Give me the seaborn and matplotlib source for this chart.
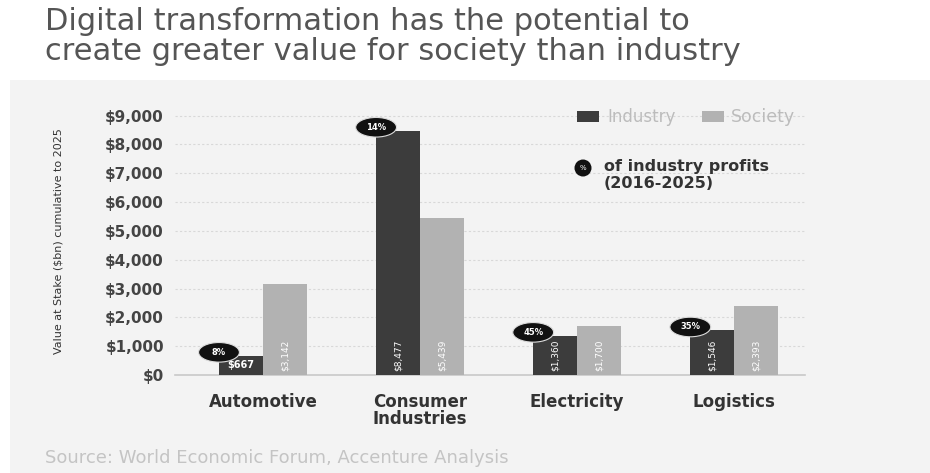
import matplotlib
matplotlib.use("Agg")
import matplotlib.pyplot as plt
from matplotlib.patches import Ellipse, Rectangle
import seaborn as sns
import pandas as pd

categories = ["Automotive", "Consumer\nIndustries", "Electricity", "Logistics"]
industry = [667, 8477, 1360, 1546]
society = [3142, 5439, 1700, 2393]
industry_labels = ["$667", "$8,477", "$1,360", "$1,546"]
society_labels = ["$3,142", "$5,439", "$1,700", "$2,393"]
profit_share = ["8%", "14%", "45%", "35%"]
yticks = [0, 1000, 2000, 3000, 4000, 5000, 6000, 7000, 8000, 9000]
ytick_labels = ["$0", "$1,000", "$2,000", "$3,000", "$4,000", "$5,000",
                "$6,000", "$7,000", "$8,000", "$9,000"]

df = pd.DataFrame({
    "Category": categories * 2,
    "Value": industry + society,
    "Series": ["Industry"] * 4 + ["Society"] * 4,
})

sns.set_theme(style="white")
plt.rcParams["font.family"] = ["DejaVu Sans"]

W, H = 930, 473
fig = plt.figure(figsize=(9.3, 4.73), dpi=100)
fig.patch.set_facecolor("white")
fig.patches.append(Rectangle((10 / W, 0), 1, (H - 80) / H, transform=fig.transFigure,
                             facecolor="#f3f3f3", edgecolor="none", zorder=-1))

ax = fig.add_axes([175 / W, (H - 375) / H, (805 - 175) / W, (375 - 107) / H])
ax.set_zorder(3)
ax.set_facecolor("none")

dark = "#3c3c3c"
light = "#b2b2b2"
sns.barplot(data=df, x="Category", y="Value", hue="Series", hue_order=["Industry", "Society"],
            palette=[dark, light], width=0.56, saturation=1, ax=ax, legend=False, zorder=3,
            linewidth=0)

ax.set_ylim(0, 9300)
ax.set_xlim(-0.56, 3.45)
ax.set_yticks(yticks)
ax.set_yticklabels(ytick_labels, fontsize=11, fontweight="bold", color="#444444")
ax.set_xticks(range(4))
ax.set_xticklabels(categories, fontsize=12, fontweight="bold", color="#333333", linespacing=0.95)
ax.tick_params(axis="both", length=0, pad=8)
ax.tick_params(axis="x", pad=13)
for y in yticks[1:]:
    ax.axhline(y, color="#d8d8d8", lw=0.8, ls=(0, (2, 2)), zorder=1)
for s in ["top", "right", "left"]:
    ax.spines[s].set_visible(False)
ax.spines["bottom"].set_color("#c8c8c8")
ax.spines["bottom"].set_linewidth(1.2)
ax.set_xlabel("")
ax.set_ylabel("Value at Stake ($bn) cumulative to 2025", fontsize=8, color="#333333", labelpad=30)

# value labels inside bars
for container, labels in zip(ax.containers, [industry_labels, society_labels]):
    for bar, lab in zip(container, labels):
        cx = bar.get_x() + bar.get_width() / 2
        if bar.get_height() < 1000:
            ax.text(cx, bar.get_height() / 2, lab, ha="center", va="center", fontsize=7,
                    color="white", fontweight="bold", zorder=5)
        else:
            ax.text(cx, 150, lab, rotation=90, ha="center", va="bottom", fontsize=6.5,
                    color="white", zorder=5)

# percent ellipses
ind_bars = ax.containers[0]
for bar, pct in zip(ind_bars, profit_share):
    ex = bar.get_x() - 0.0
    ey = bar.get_height() + 120
    e = Ellipse((ex, ey), width=0.26, height=680, facecolor="#111111",
                edgecolor="#dddddd", lw=0.8, zorder=6, clip_on=False)
    ax.add_patch(e)
    ax.text(ex, ey, pct, ha="center", va="center", fontsize=6, color="white",
            fontweight="bold", zorder=7)

# legend
def fx(px):
    return px / W

def fy(py):
    return (H - py) / H

fig.patches.append(Rectangle((fx(577), fy(122)), 22 / W, 11 / H, transform=fig.transFigure,
                             facecolor=dark, edgecolor="none", zorder=5))
fig.text(fx(607), fy(117), "Industry", fontsize=12, color="#bcbcbc", va="center")
fig.patches.append(Rectangle((fx(702), fy(122)), 22 / W, 11 / H, transform=fig.transFigure,
                             facecolor=light, edgecolor="none", zorder=5))
fig.text(fx(731), fy(117), "Society", fontsize=12.5, color="#bcbcbc", va="center")
fig.patches.append(Ellipse((fx(583), fy(168)), 17 / W, 17 / H, transform=fig.transFigure,
                           facecolor="#111111", edgecolor="none", zorder=5))
fig.text(fx(583), fy(168), "%", fontsize=5, color="white", ha="center", va="center", zorder=6)
fig.text(fx(604), fy(167), "of industry profits", fontsize=11.5, fontweight="bold",
         color="#333333", va="center")
fig.text(fx(604), fy(183), "(2016-2025)", fontsize=11.5, fontweight="bold",
         color="#333333", va="center")

# title
fig.text(fx(45), fy(22), "Digital transformation has the potential to", fontsize=22,
         color="#555555", va="center")
fig.text(fx(45), fy(51), "create greater value for society than industry", fontsize=22,
         color="#555555", va="center")

fig.text(fx(45), fy(458), "Source: World Economic Forum, Accenture Analysis", fontsize=13,
         color="#c4c4c4", va="center")

fig.savefig("out.png", dpi=100)
